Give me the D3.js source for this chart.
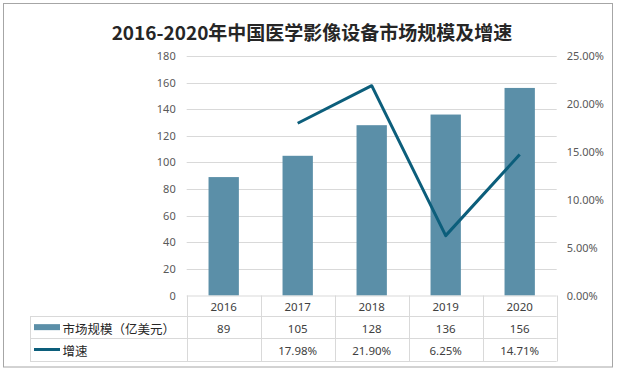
<!DOCTYPE html>
<html><head><meta charset="utf-8">
<script src="https://cdn.jsdelivr.net/npm/d3@7"></script>
<style>
body{margin:0;background:#fff;}
text{font-family:"Noto Sans","Noto Sans CJK SC",sans-serif;}
</style></head>
<body><svg id="c" width="619" height="374"></svg>
<script>
const title = "2016-2020年中国医学影像设备市场规模及增速";
const categories = ["2016","2017","2018","2019","2020"];
const marketSize = [89,105,128,136,156];
const growth = [null,17.98,21.90,6.25,14.71];
const growthLabels = ["","17.98%","21.90%","6.25%","14.71%"];
const seriesNames = ["市场规模（亿美元）","增速"];
const leftTicks = [0,20,40,60,80,100,120,140,160,180];
const rightTicks = [0,5,10,15,20,25];

const barColor = "#5b8fa8", lineColor = "#0c5e7b", gridColor = "#d9d9d9", labelColor = "#595959";
const svg = d3.select("#c");
const L = 186.7, R = 556.7, T = 56, B = 295.5;

svg.append("rect").attr("x",3.5).attr("y",3.5).attr("width",609).attr("height",363.5)
  .attr("fill","#fff").attr("stroke","#a6a6a6").attr("stroke-width",1);

svg.append("text").attr("x",312).attr("y",40).attr("text-anchor","middle")
  .attr("font-size",19).attr("font-weight","bold").attr("fill","#262626")
  .style("font-family",'"Noto Sans CJK SC",sans-serif').text(title);

const x = d3.scaleBand().domain(categories).range([L,R]).paddingInner(0.59).paddingOuter(0.295);
const xc = d3.scaleBand().domain(categories).range([L,R]);
const y = d3.scaleLinear().domain([0,180]).range([B,T]);
const y2 = d3.scaleLinear().domain([0,25]).range([B,T]);

// grid
svg.append("g").selectAll("line").data(leftTicks.slice(1)).join("line")
  .attr("x1",L).attr("x2",R).attr("y1",d=>Math.round(y(d))+0.5).attr("y2",d=>Math.round(y(d))+0.5)
  .attr("stroke",gridColor);

// left axis
const la = svg.append("g").attr("transform",`translate(${L-11},0)`)
  .call(d3.axisLeft(y).tickValues(leftTicks).tickSize(0).tickPadding(0));
la.select(".domain").remove();
la.selectAll("text").attr("font-size",11).attr("fill",labelColor).style("font-family",'"Noto Sans",sans-serif');

// right axis
const ra = svg.append("g").attr("transform",`translate(${R+10},0)`)
  .call(d3.axisRight(y2).tickValues(rightTicks).tickSize(0).tickPadding(0).tickFormat(d=>d.toFixed(2)+"%"));
ra.select(".domain").remove();
ra.selectAll("text").attr("font-size",11).attr("fill",labelColor).style("font-family",'"Noto Sans",sans-serif');

// bars
svg.append("g").selectAll("rect").data(categories).join("rect")
  .attr("x",(d)=>x(d)).attr("width",x.bandwidth())
  .attr("y",(d,i)=>y(marketSize[i])).attr("height",(d,i)=>B-y(marketSize[i]))
  .attr("fill",barColor);

// line
const pts = categories.map((c,i)=>({c,v:growth[i]})).filter(d=>d.v!=null);
svg.append("path").datum(pts)
  .attr("d",d3.line().x(d=>xc(d.c)+xc.bandwidth()/2).y(d=>y2(d.v)))
  .attr("fill","none").attr("stroke",lineColor).attr("stroke-width",3).attr("stroke-linejoin","round");

// data table
const rows = [B, 316, 338.3, 360.7];
const TL = 30;
const tg = svg.append("g");
// horizontal lines
tg.append("line").attr("x1",L).attr("x2",R).attr("y1",rows[0]+0.5).attr("y2",rows[0]+0.5).attr("stroke",gridColor);
[1,2,3].forEach(k=>{
  tg.append("line").attr("x1",TL).attr("x2",R).attr("y1",Math.round(rows[k])+0.5).attr("y2",Math.round(rows[k])+0.5).attr("stroke",gridColor);
});
// vertical lines
const vx = categories.map(c=>xc(c)).concat([R]);
vx.forEach(v=>{
  tg.append("line").attr("x1",Math.round(v)+0.5).attr("x2",Math.round(v)+0.5).attr("y1",rows[0]).attr("y2",Math.round(rows[3])+0.5).attr("stroke",gridColor);
});
tg.append("line").attr("x1",TL+0.5).attr("x2",TL+0.5).attr("y1",Math.round(rows[1])+0.5).attr("y2",Math.round(rows[3])+0.5).attr("stroke",gridColor);

const cellText = (xx,yy,t,anchor)=>tg.append("text").attr("x",xx).attr("y",yy).attr("text-anchor",anchor||"middle")
  .attr("dominant-baseline","central").attr("font-size",11.5).attr("fill","#404040").text(t);
categories.forEach((c,i)=>{
  const cx = xc(c)+xc.bandwidth()/2;
  cellText(cx,(rows[0]+rows[1])/2+1,c);
  cellText(cx,(rows[1]+rows[2])/2+1,String(marketSize[i]));
  cellText(cx,(rows[2]+rows[3])/2+1,growthLabels[i]);
});
// legend keys
tg.append("rect").attr("x",34).attr("y",(rows[1]+rows[2])/2-3).attr("width",26).attr("height",6).attr("fill",barColor);
tg.append("line").attr("x1",34).attr("x2",60).attr("y1",(rows[2]+rows[3])/2).attr("y2",(rows[2]+rows[3])/2)
  .attr("stroke",lineColor).attr("stroke-width",3);
tg.append("text").attr("x",62.5).attr("y",(rows[1]+rows[2])/2+1).attr("dominant-baseline","central")
  .attr("font-size",12.5).attr("fill","#262626").style("font-family",'"Noto Sans CJK SC",sans-serif').text(seriesNames[0]);
tg.append("text").attr("x",62.5).attr("y",(rows[2]+rows[3])/2+1).attr("dominant-baseline","central")
  .attr("font-size",12.5).attr("fill","#262626").style("font-family",'"Noto Sans CJK SC",sans-serif').text(seriesNames[1]);
</script></body></html>
